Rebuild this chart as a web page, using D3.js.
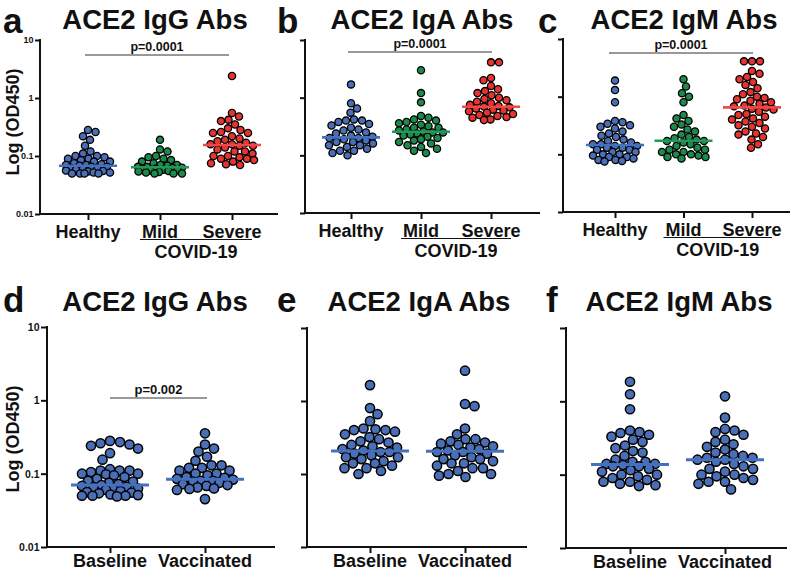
<!DOCTYPE html>
<html><head><meta charset="utf-8">
<script src="https://cdn.jsdelivr.net/npm/d3@7"></script>
<style>
body{margin:0;background:#fff}
svg{display:block}
text{font-family:"Liberation Sans",Arial,Helvetica,sans-serif;font-weight:bold;fill:#111}
</style>
</head><body>
<svg id="chart" width="800" height="576"></svg>
<script>
// ---------- data ----------
const covidGroups = ["Healthy", "Mild", "Severe"];
const vaccGroups = ["Baseline", "Vaccinated"];
const yTickValues = [0.01, 0.1, 1, 10];
const yTickLabels = ["0.01", "0.1", "1", "10"];
const panelLetters = ["a", "b", "c", "d", "e", "f"];
const panelTitles = ["ACE2 IgG Abs", "ACE2 IgA Abs", "ACE2 IgM Abs", "ACE2 IgG Abs", "ACE2 IgA Abs", "ACE2 IgM Abs"];
const pValues = ["p=0.0001", "p=0.0001", "p=0.0001", "p=0.002", null, null];

// Panel a: IgG, COVID cohort
const igGHealthy = [0.28,0.26,0.22,0.19,0.15,0.12,0.11,0.1,0.1,0.095,0.09,0.09,0.085,0.08,0.08,0.075,0.072,0.07,0.07,0.068,0.065,0.065,0.062,0.06,0.06,0.058,0.056,0.055,0.054,0.052,0.052,0.05,0.05,0.05,0.05];
const igGMild = [0.19,0.13,0.12,0.1,0.095,0.09,0.085,0.08,0.075,0.07,0.07,0.068,0.065,0.065,0.063,0.062,0.06,0.06,0.058,0.057,0.056,0.055,0.054,0.053,0.052,0.05,0.05,0.05];
const igGSevere = [2.4,0.55,0.48,0.42,0.4,0.35,0.3,0.28,0.26,0.25,0.25,0.22,0.2,0.19,0.18,0.17,0.16,0.16,0.15,0.15,0.14,0.13,0.12,0.12,0.11,0.1,0.1,0.095,0.09,0.09,0.085,0.08,0.075,0.072,0.07];
const igGCovidMedians = [0.068, 0.064, 0.155];

// Panel b: IgA, COVID cohort
const igAHealthy = [1.7,0.8,0.65,0.55,0.42,0.4,0.4,0.38,0.35,0.33,0.3,0.28,0.27,0.25,0.24,0.22,0.21,0.2,0.2,0.19,0.18,0.17,0.17,0.16,0.15,0.15,0.14,0.13,0.12,0.12,0.11,0.1];
const igAMild = [3.0,1.2,0.83,0.48,0.45,0.42,0.4,0.38,0.36,0.34,0.32,0.3,0.3,0.28,0.27,0.26,0.25,0.25,0.24,0.23,0.22,0.21,0.2,0.19,0.18,0.17,0.16,0.15,0.14,0.13,0.12,0.11];
const igASevere = [4.1,4.1,2.2,2.0,1.6,1.4,1.3,1.2,1.1,1.0,0.95,0.9,0.85,0.8,0.75,0.72,0.7,0.68,0.65,0.62,0.6,0.58,0.55,0.52,0.5,0.48,0.46,0.45,0.42,0.41];
const igACovidMedians = [0.205, 0.257, 0.695];

// Panel c: IgM, COVID cohort
const igMHealthy = [1.9,1.3,0.8,0.38,0.36,0.34,0.32,0.3,0.28,0.25,0.23,0.21,0.2,0.18,0.17,0.16,0.15,0.15,0.14,0.14,0.13,0.13,0.12,0.12,0.11,0.11,0.1,0.1,0.095,0.09,0.09,0.085,0.08,0.08,0.077,0.075];
const igMMild = [2.0,1.5,1.15,1.0,0.8,0.48,0.42,0.38,0.33,0.3,0.27,0.25,0.22,0.2,0.19,0.18,0.17,0.17,0.16,0.15,0.14,0.13,0.12,0.12,0.11,0.11,0.1,0.1,0.095,0.09,0.09,0.085];
const igMSevere = [4.1,4.1,4.1,2.8,2.5,2.2,2.0,1.8,1.6,1.4,1.2,1.1,1.0,0.95,0.9,0.85,0.8,0.75,0.7,0.68,0.65,0.62,0.6,0.55,0.5,0.48,0.45,0.42,0.4,0.37,0.35,0.32,0.3,0.28,0.25,0.23,0.22,0.2,0.18,0.15,0.13];
const igMCovidMedians = [0.145, 0.172, 0.652];

// Panel d: IgG, vaccine cohort
const igGBaseline = [0.28,0.27,0.26,0.25,0.24,0.22,0.19,0.155,0.115,0.11,0.11,0.11,0.105,0.1,0.1,0.098,0.095,0.09,0.085,0.08,0.078,0.075,0.072,0.07,0.068,0.066,0.065,0.063,0.062,0.06,0.058,0.056,0.055,0.054,0.052,0.051,0.05,0.05,0.05,0.049];
const igGVaccinated = [0.355,0.25,0.22,0.2,0.17,0.15,0.13,0.13,0.12,0.12,0.11,0.11,0.1,0.1,0.095,0.09,0.088,0.085,0.083,0.08,0.08,0.078,0.075,0.072,0.07,0.068,0.065,0.063,0.062,0.06,0.045];
const igGVaccMedians = [0.07, 0.084];

// Panel e: IgA, vaccine cohort
const igABaseline = [1.65,0.8,0.66,0.53,0.42,0.41,0.4,0.4,0.38,0.35,0.32,0.3,0.28,0.27,0.25,0.24,0.23,0.22,0.21,0.2,0.2,0.19,0.18,0.17,0.17,0.16,0.15,0.14,0.14,0.13,0.12,0.12,0.11,0.1];
const igAVaccinated = [2.6,0.91,0.85,0.42,0.35,0.3,0.3,0.28,0.27,0.26,0.25,0.24,0.23,0.22,0.21,0.2,0.2,0.19,0.18,0.17,0.16,0.16,0.15,0.14,0.14,0.13,0.12,0.12,0.11,0.1,0.1,0.095,0.091];
const igAVaccMedians = [0.206, 0.205];

// Panel f: IgM, vaccine cohort
const igMBaseline = [1.85,1.25,0.78,0.4,0.38,0.37,0.35,0.33,0.3,0.28,0.25,0.23,0.21,0.2,0.18,0.16,0.15,0.15,0.14,0.14,0.135,0.13,0.13,0.12,0.115,0.11,0.1,0.1,0.095,0.09,0.085,0.08,0.08,0.075,0.072,0.07];
const igMVaccinated = [1.17,0.6,0.42,0.4,0.38,0.35,0.3,0.28,0.26,0.24,0.22,0.2,0.19,0.18,0.17,0.17,0.16,0.16,0.15,0.14,0.13,0.12,0.12,0.11,0.1,0.1,0.095,0.09,0.085,0.08,0.08,0.075,0.063];
const igMVaccMedians = [0.138, 0.16];

// ---------- styles ----------
const covidFill = ["#4a6fb6", "#1c8a4b", "#e8342f"];
const covidLine = ["#4470c0", "#22985a", "#f04848"];
const vaccFill = ["#4a6fb6", "#4a6fb6"];
const vaccLine = ["#4470c0", "#4470c0"];

// ---------- layout (positions only) ----------
const layouts = [
  {ax0:40, ax1:278, c0:88, c1:232, yT:40, yB:214, r:3.6, sw:1.3, mw:58, mth:2.6, half:22, tickLab:9, title:[155,29], letter:[3,33], p:[85,229,55], covid:true},
  {ax0:305, ax1:540, c0:351, c1:491, yT:40, yB:213, r:3.6, sw:1.3, mw:58, mth:2.6, half:22, tickLab:0, title:[422,29], letter:[277,33], p:[348,492,52], covid:true},
  {ax0:563, ax1:790, c0:615, c1:752, yT:39, yB:212, r:3.6, sw:1.3, mw:58, mth:2.6, half:22, tickLab:0, title:[684,29], letter:[538,33], p:[609,753,53], covid:true},
  {ax0:47, ax1:275, c0:110, c1:205, yT:327, yB:547, r:4.6, sw:1.5, mw:78, mth:3, half:28, tickLab:10.5, title:[155,311], letter:[3,312], p:[110,207,398], covid:false},
  {ax0:307, ax1:527, c0:370, c1:465, yT:328, yB:547, r:4.6, sw:1.5, mw:78, mth:3, half:28, tickLab:0, title:[419,311], letter:[277,312], p:null, covid:false},
  {ax0:566, ax1:787, c0:630, c1:725, yT:328, yB:548, r:4.6, sw:1.5, mw:78, mth:3, half:28, tickLab:0, title:[679,311], letter:[546,312], p:null, covid:false}
];
const panelData = [
  {groups: covidGroups, values:[igGHealthy, igGMild, igGSevere], medians: igGCovidMedians},
  {groups: covidGroups, values:[igAHealthy, igAMild, igASevere], medians: igACovidMedians},
  {groups: covidGroups, values:[igMHealthy, igMMild, igMSevere], medians: igMCovidMedians},
  {groups: vaccGroups, values:[igGBaseline, igGVaccinated], medians: igGVaccMedians},
  {groups: vaccGroups, values:[igABaseline, igAVaccinated], medians: igAVaccMedians},
  {groups: vaccGroups, values:[igMBaseline, igMVaccinated], medians: igMVaccMedians}
];

// deterministic beeswarm with bounded width (overlaps allowed when crowded)
function swarm(values, y, diam, maxHalf) {
  const pts = values.map(v => ({v, y: y(v), x: 0})).sort((a, b) => a.y - b.y);
  const placed = [];
  let side = 1;
  for (const p of pts) {
    const near = placed.filter(q => Math.abs(q.y - p.y) < diam);
    const cands = [0];
    for (let c = 0.5; c <= maxHalf; c += 0.5) cands.push(side * c, -side * c);
    let best = 0, bestScore = -1;
    for (const c of cands) {
      let md = diam;
      for (const q of near) {
        const d = Math.hypot(q.x - c, q.y - p.y);
        if (d < md) md = d;
      }
      if (md > bestScore + 1e-6) { bestScore = md; best = c; if (md >= diam) break; }
    }
    p.x = best;
    if (p.x !== 0) side = -Math.sign(p.x);
    placed.push(p);
  }
  return pts;
}

const svg = d3.select("#chart");

layouts.forEach((L, i) => {
  const D = panelData[i];
  const g = svg.append("g");
  const y = d3.scaleLog().domain([0.01, 10]).range([L.yB, L.yT]);
  const x = d3.scalePoint().domain(D.groups).range([L.c0, L.c1]);
  const fills = L.covid ? covidFill : vaccFill;
  const lines = L.covid ? covidLine : vaccLine;

  // y axis
  const yAxis = d3.axisLeft(y).tickValues(yTickValues)
    .tickFormat((d, k) => L.tickLab ? yTickLabels[k] : "")
    .tickSize(L.covid ? 5 : 6).tickPadding(1.5);
  const ya = g.append("g").attr("transform", `translate(${L.ax0},0)`).call(yAxis);
  ya.select(".domain").remove();
  ya.selectAll(".tick line").attr("stroke", "#111").attr("stroke-width", 2);
  ya.selectAll(".tick text").attr("font-size", L.tickLab).attr("fill", "#111")
    .attr("font-family", "Liberation Sans, Arial, sans-serif").attr("font-weight", "bold");
  g.append("line").attr("x1", L.ax0).attr("x2", L.ax0).attr("y1", L.yT - 1).attr("y2", L.yB + 1)
    .attr("stroke", "#111").attr("stroke-width", 2);

  // x axis
  const xAxis = d3.axisBottom(x).tickSize(6).tickFormat("").tickSizeOuter(0);
  const xa = g.append("g").attr("transform", `translate(0,${L.yB})`).call(xAxis);
  xa.select(".domain").remove();
  xa.selectAll(".tick line").attr("stroke", "#111").attr("stroke-width", 2);
  g.append("line").attr("x1", L.ax0 - 1).attr("x2", L.ax1).attr("y1", L.yB).attr("y2", L.yB)
    .attr("stroke", "#111").attr("stroke-width", 2);

  // category labels
  const labY = L.covid ? L.yB + 24 : L.yB + 20;
  g.selectAll("text.cat").data(D.groups).join("text").attr("class", "cat")
    .attr("x", d => x(d)).attr("y", labY).attr("text-anchor", "middle")
    .attr("font-size", 18).text(d => d);

  if (L.covid) {
    const ul = L.yB + 25.5;
    g.append("line").attr("x1", x("Mild") - 20).attr("x2", x("Severe") + 20)
      .attr("y1", ul).attr("y2", ul).attr("stroke", "#111").attr("stroke-width", 1);
    g.append("text").attr("x", (x("Mild") + x("Severe")) / 2).attr("y", L.yB + 44)
      .attr("text-anchor", "middle").attr("font-size", 18).text("COVID-19");
  }

  // axis title
  if (L.tickLab) {
    const cy = (L.yT + L.yB) / 2 + (L.covid ? -5 : 2);
    g.append("text").attr("transform", `translate(19,${cy}) rotate(-90)`)
      .attr("text-anchor", "middle").attr("font-size", 18).text("Log (OD450)");
  }

  // title and letter
  g.append("text").attr("x", L.title[0]).attr("y", L.title[1]).attr("text-anchor", "middle")
    .attr("font-size", 27.5).text(panelTitles[i]);
  g.append("text").attr("x", L.letter[0]).attr("y", L.letter[1])
    .attr("font-size", 35).attr("fill", "#231f20").text(panelLetters[i]);

  // p value
  if (L.p) {
    g.append("line").attr("x1", L.p[0]).attr("x2", L.p[1]).attr("y1", L.p[2]).attr("y2", L.p[2])
      .attr("stroke", "#333").attr("stroke-width", 1);
    g.append("text").attr("x", (L.p[0] + L.p[1]) / 2).attr("y", L.p[2] - 4)
      .attr("text-anchor", "middle").attr("font-size", L.covid ? 12.5 : 13).text(pValues[i]);
  }

  // points + median
  D.groups.forEach((grp, k) => {
    const pts = swarm(D.values[k], y, 2 * L.r + 0.4, L.half);
    g.append("g").selectAll("circle").data(pts).join("circle")
      .attr("cx", d => x(grp) + d.x).attr("cy", d => d.y).attr("r", L.r)
      .attr("fill", fills[k]).attr("stroke", "#000").attr("stroke-width", L.sw);
    g.append("line").attr("x1", x(grp) - L.mw / 2).attr("x2", x(grp) + L.mw / 2)
      .attr("y1", y(D.medians[k])).attr("y2", y(D.medians[k]))
      .attr("stroke", lines[k]).attr("stroke-width", L.mth);
  });
});
</script>
</body></html>
